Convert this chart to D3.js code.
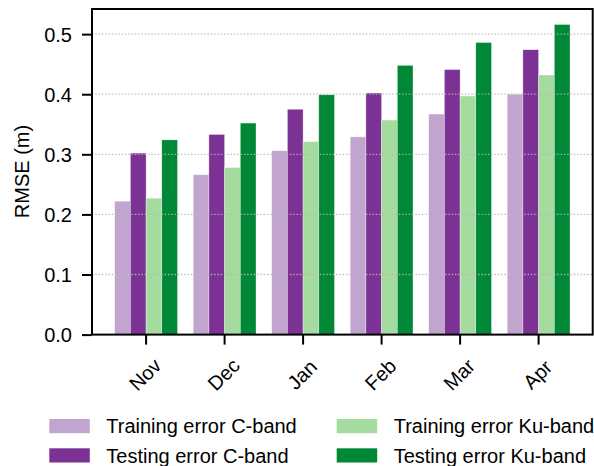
<!DOCTYPE html>
<html><head><meta charset="utf-8">
<script src="https://cdn.jsdelivr.net/npm/d3@7"></script>
<style>body{margin:0;background:#fff}svg{display:block}text{font-family:"Liberation Sans",Arial,sans-serif;fill:#000}</style>
</head><body><svg id="c" width="594" height="466"></svg>
<script>
const months = ["Nov","Dec","Jan","Feb","Mar","Apr"];
const seriesNames = ["Training error C-band","Testing error C-band","Training error Ku-band","Testing error Ku-band"];
const seriesColors = ["#c2a5cf","#7b3294","#a6dba0","#008837"];
const trainC = [0.222,0.266,0.306,0.329,0.367,0.400];
const testC  = [0.302,0.333,0.375,0.402,0.441,0.474];
const trainKu= [0.227,0.278,0.321,0.357,0.397,0.432];
const testKu = [0.324,0.352,0.399,0.448,0.486,0.516];
const yTicks = [0.0,0.1,0.2,0.3,0.4,0.5];
const yLabel = "RMSE (m)";

const series = [trainC,testC,trainKu,testKu];
const svg = d3.select("#c");
const L=92, R=592.7, T=9, B=334.6;
const FS = 20;
const ymax = d3.max(testKu)*1.05;
const y = d3.scaleLinear().domain([0, ymax]).range([B, T]);
const x0 = d3.scaleBand().domain(months).range([L,R]).paddingInner(0.2).paddingOuter(0.289);
const x1 = d3.scaleBand().domain(d3.range(4)).range([0, x0.bandwidth()]);

// bars
const g = svg.append("g");
series.forEach((vals,j)=>{
  g.selectAll(null).data(vals).enter().append("rect")
    .attr("x",(d,i)=>x0(months[i])+x1(j))
    .attr("y",d=>y(d))
    .attr("width",x1.bandwidth())
    .attr("height",d=>B-y(d))
    .attr("fill",seriesColors[j])
    .attr("stroke","#ffffff").attr("stroke-opacity",0.55).attr("stroke-width",0.6);
});

// grid on top
svg.append("g").selectAll("line").data(yTicks.slice(1)).enter().append("line")
  .attr("x1",L).attr("x2",R).attr("y1",d=>y(d)).attr("y2",d=>y(d))
  .attr("stroke","#b8b8b8").attr("stroke-width",1.3).attr("stroke-dasharray","1.4,1.9").attr("opacity",0.9);

// frame
svg.append("rect").attr("x",L).attr("y",T).attr("width",R-L).attr("height",B-T)
  .attr("fill","none").attr("stroke","#000").attr("stroke-width",2);

// y axis
const ya = d3.axisLeft(y).tickValues(yTicks).tickFormat(d3.format(".1f")).tickSize(10).tickPadding(10);
const yg = svg.append("g").attr("transform",`translate(${L},0)`).call(ya);
yg.select(".domain").remove();
yg.selectAll(".tick line").attr("stroke","#000").attr("stroke-width",2);
yg.selectAll(".tick text").attr("font-size",FS).attr("dy","0.36em").style("font-family","Liberation Sans, Arial, sans-serif");

// x axis
const xa = d3.axisBottom(x0).tickSize(10).tickSizeOuter(0);
const xg = svg.append("g").attr("transform",`translate(0,${B})`).call(xa);
xg.select(".domain").remove();
xg.selectAll(".tick line").attr("stroke","#000").attr("stroke-width",2);
xg.selectAll(".tick text").attr("font-size",FS).attr("y",0).attr("dy","0.35em")
  .attr("text-anchor","middle").attr("transform","translate(-1,40) rotate(-45)")
  .style("font-family","Liberation Sans, Arial, sans-serif");

// y label
svg.append("text").attr("transform","translate(29,171.5) rotate(-90)").attr("text-anchor","middle")
  .attr("font-size",FS).text(yLabel);

// legend
const legX = [49.3, 336.7], legY = [419, 448.3];
seriesNames.forEach((n,j)=>{
  const col = Math.floor(j/2), row = j%2;
  svg.append("rect").attr("x",legX[col]).attr("y",legY[row]).attr("width",40.5).attr("height",14.2).attr("fill",seriesColors[j]);
  svg.append("text").attr("x",legX[col]+57).attr("y",legY[row]+14.3).attr("font-size",FS).text(n);
});
</script></body></html>
